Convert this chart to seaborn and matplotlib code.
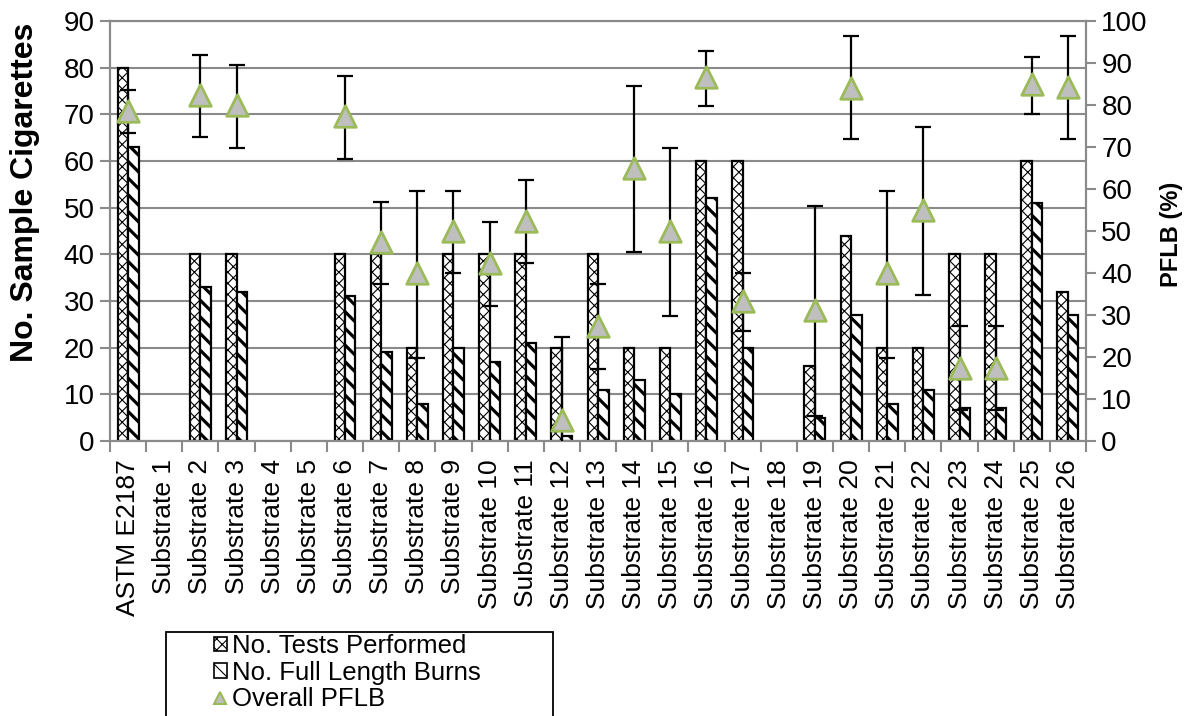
import numpy as np
import pandas as pd
import matplotlib
matplotlib.use("Agg")
import matplotlib.pyplot as plt
from matplotlib.patches import Rectangle, Patch
from matplotlib.ticker import MultipleLocator, FixedLocator
import seaborn as sns

categories = ["ASTM E2187"] + [f"Substrate {i}" for i in range(1, 27)]
tests = [80, 0, 40, 40, 0, 0, 40, 40, 20, 40, 40, 40, 20, 40, 20, 20, 60, 60, 0, 16, 44, 20, 20, 40, 40, 60, 32]
burns = [63, 0, 33, 32, 0, 0, 31, 19, 8, 20, 17, 21, 1, 11, 13, 10, 52, 20, 0, 5, 27, 8, 11, 7, 7, 51, 27]
pflb = [78.5, None, 82.5, 80, None, None, 77.5, 47.5, 40, 50, 42.5, 52.5, 5, 27.5, 65, 50,
        86.7, 33.3, None, 31.3, 84, 40, 55, 17.5, 17.5, 85, 84.4]
pflb_upper = [83.5, None, 92, 89.5, None, None, 87, 57, 59.6, 59.6, 52.2, 62.2, 24.8, 37.4, 84.5, 69.7,
              92.9, 39.9, None, 56, 96.5, 59.6, 74.7, 27.4, 27.4, 91.5, 96.5]
pflb_lower = [73.3, None, 72.3, 69.7, None, None, 67.1, 37.4, 19.7, 39.9, 32.2, 42.5, -15, 17.1, 44.9, 29.8,
              79.8, 26.3, None, 6, 71.8, 19.7, 34.8, 7.5, 7.5, 77.8, 71.8]

series_names = ["No. Tests Performed", "No. Full Length Burns", "Overall PFLB"]

sns.set_theme(style="white")
plt.rcParams['font.family'] = ['Liberation Sans', 'DejaVu Sans']
plt.rcParams['hatch.linewidth'] = 0.8
plt.rcParams['text.color'] = 'black'
plt.rcParams['xtick.color'] = 'black'
plt.rcParams['ytick.color'] = 'black'

GRAY = '#8a8a8a'
HATCH_TESTS = "xxx"
HATCH_BURNS = "\\\\"
BURN_HATCH_LW = 2.3

fig = plt.figure(figsize=(11.92, 7.16), dpi=100)
ax = fig.add_axes([0.0923, 0.384, 0.8188, 0.5866])

df = pd.DataFrame({
    "cat": categories * 2,
    "series": [series_names[0]] * len(categories) + [series_names[1]] * len(categories),
    "value": tests + burns,
})
sns.barplot(data=df, x="cat", y="value", hue="series", hue_order=series_names[:2],
            palette=["white", "white"], edgecolor="black", linewidth=1.6,
            width=0.58, gap=0, saturation=1, ax=ax, legend=False, zorder=2)


def style_patch(p, h):
    p.set_hatch(h)
    if h == HATCH_BURNS:
        try:
            p.set_hatch_linewidth(BURN_HATCH_LW)
        except Exception:
            pass


for cont, h in zip(ax.containers, [HATCH_TESTS, HATCH_BURNS]):
    for p in cont:
        style_patch(p, h)
        if p.get_height() == 0:
            p.set_linewidth(0)
            p.set_hatch(None)

ax.set_ylim(0, 90)
ax.set_xlim(-0.5, len(categories) - 0.5)
ax.yaxis.set_major_locator(MultipleLocator(10))
ax.grid(axis="y", color=GRAY, linewidth=1.5, zorder=0)
ax.grid(axis="x", visible=False)
ax.set_axisbelow(True)
ax.set_xlabel("")
ax.set_ylabel("")

ax.tick_params(axis="y", which="major", labelsize=20, length=7, width=1.5, color=GRAY,
               direction="out", left=True, pad=4, labelcolor="black")
ax.set_xticks(range(len(categories)))
ax.set_xticklabels(categories, rotation=90, fontsize=19, va="top", ha="center", color="black")
ax.tick_params(axis="x", which="major", length=0, pad=13)
ax.xaxis.set_minor_locator(FixedLocator(np.arange(-0.5, len(categories), 1.0)))
ax.tick_params(axis="x", which="minor", length=8, width=1.5, color=GRAY, direction="out", bottom=True)

for s in ax.spines.values():
    s.set_color(GRAY)
    s.set_linewidth(1.5)

ax2 = ax.twinx()
ax2.set_ylim(0, 100)
ax2.yaxis.set_major_locator(MultipleLocator(10))
ax2.tick_params(axis="y", labelsize=20, length=7, width=1.5, color=GRAY, direction="out",
                pad=4, labelcolor="black")
ax2.grid(False)
for s in ax2.spines.values():
    s.set_color(GRAY)
    s.set_linewidth(1.5)

idx = [i for i, v in enumerate(pflb) if v is not None]
xp = np.array(idx, dtype=float)
yp = np.array([pflb[i] for i in idx])
yu = np.array([pflb_upper[i] for i in idx])
yl = np.array([pflb_lower[i] for i in idx])
ax2.errorbar(xp, yp, yerr=[yp - yl, yu - yp], fmt="none", ecolor="black",
             elinewidth=1.6, capsize=6, capthick=1.6, zorder=3)
sns.scatterplot(x=xp, y=yp, marker="^", s=240, color="#BFBFBF", edgecolor="#9BBB59",
                linewidth=2, ax=ax2, zorder=4, legend=False)
ax2.set_xlim(-0.5, len(categories) - 0.5)

fig.text(0.021, 0.732, "No. Sample Cigarettes", rotation=90, ha="center", va="center",
         fontsize=23, fontweight="bold")
fig.text(0.983, 0.672, "PFLB (%)", rotation=90, ha="center", va="center",
         fontsize=17, fontweight="bold")

# legend
h1 = Patch(facecolor="white", edgecolor="black", linewidth=1.2, hatch=HATCH_TESTS)
h2 = Patch(facecolor="white", edgecolor="black", linewidth=1.2)
style_patch(h2, HATCH_BURNS)
h3 = plt.Line2D([], [], marker="^", linestyle="none", markersize=9,
                markerfacecolor="#BFBFBF", markeredgecolor="#9BBB59", markeredgewidth=1.5)
leg = fig.legend([h1, h2, h3], series_names, loc="upper left",
                 bbox_to_anchor=(214 / 1192, 1 - 634 / 716), frameon=False,
                 fontsize=18.5, handlelength=0.5, handleheight=0.5, handletextpad=0.2,
                 labelspacing=0.1, borderpad=0, borderaxespad=0)
for t in leg.get_texts():
    t.set_color("black")
fig.add_artist(Rectangle((166 / 1192, -0.02), (553 - 166) / 1192, 0.02 + 1 - 632 / 716,
                         transform=fig.transFigure, fill=False, edgecolor="black",
                         linewidth=1.3, clip_on=False))

fig.savefig("out.png", dpi=100)
